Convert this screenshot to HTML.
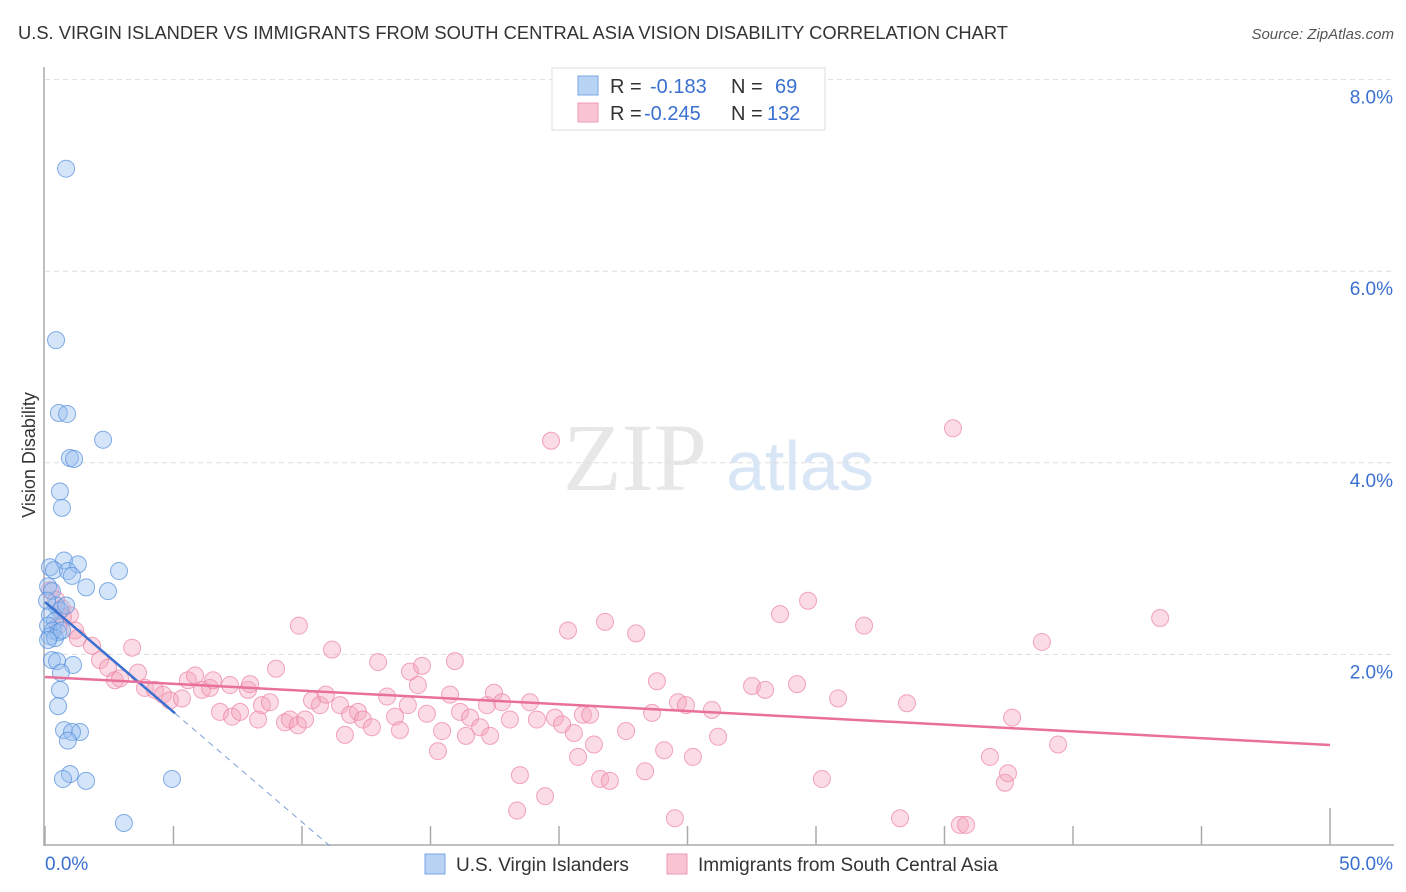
<!DOCTYPE html>
<html><head><meta charset="utf-8">
<style>
body{margin:0;background:#fff;font-family:"Liberation Sans",sans-serif;}
#wrap{position:relative;width:1406px;height:892px;overflow:hidden;}
</style></head>
<body>
<div id="wrap">
<svg id="svg" width="1406" height="892" xmlns="http://www.w3.org/2000/svg">
<text x="18" y="39" font-size="18" fill="#333" textLength="990" lengthAdjust="spacingAndGlyphs">U.S. VIRGIN ISLANDER VS IMMIGRANTS FROM SOUTH CENTRAL ASIA VISION DISABILITY CORRELATION CHART</text>
<text x="1394" y="39" font-size="15" fill="#555" font-style="italic" text-anchor="end">Source: ZipAtlas.com</text>
<text x="35" y="455" font-size="18" fill="#333" text-anchor="middle" transform="rotate(-90 35 455)">Vision Disability</text>
<g>
<text x="635" y="490" font-size="96" fill="#ddd" font-family="Liberation Serif,serif" text-anchor="middle" opacity="0.7">ZIP</text>
<text x="800" y="490" font-size="70" fill="#cfe0f5" text-anchor="middle" opacity="0.8">atlas</text>
</g>
<g id="grid"></g>
<g id="pts"></g>
<g id="lines"></g>
<g>
<rect x="552" y="68" width="273" height="62" fill="#fff" stroke="#ddd"/>
<rect x="578" y="76" width="20" height="19" fill="#b9d3f5" stroke="#7aa6e3"/>
<rect x="578" y="103" width="20" height="19" fill="#f9c5d3" stroke="#ef9bb3"/>
<g font-size="20">
<text x="610" y="93" fill="#333">R =</text>
<text x="650" y="93" fill="#3a70d0">-0.183</text>
<text x="731" y="93" fill="#333">N =</text>
<text x="775" y="93" fill="#3a70d0">69</text>
<text x="610" y="120" fill="#333">R =</text>
<text x="644" y="120" fill="#3a70d0">-0.245</text>
<text x="731" y="120" fill="#333">N =</text>
<text x="767" y="120" fill="#3a70d0">132</text>
</g>
</g>
<g>
<rect x="425" y="854" width="20" height="20" fill="#b9d3f5" stroke="#7aa6e3"/>
<text x="456" y="871" font-size="19" fill="#333">U.S. Virgin Islanders</text>
<rect x="667" y="854" width="20" height="20" fill="#f9c5d3" stroke="#ef9bb3"/>
<text x="698" y="871" font-size="19" fill="#333">Immigrants from South Central Asia</text>
</g>
</svg>
</div>
<script>
const yTicks=[2,4,6,8];
const yTickLabels=["2.0%","4.0%","6.0%","8.0%"];
const xTicks=[0,5,10,15,20,25,30,35,40,45,50];
const blueX=[0.82,0.43,0.54,0.86,2.26,0.97,1.13,0.58,0.66,0.74,1.28,0.19,0.35,0.89,1.05,2.88,2.45,1.60,0.12,0.27,0.43,0.58,0.82,0.19,0.39,0.12,0.31,0.51,0.19,0.39,0.66,0.27,0.47,1.09,0.62,0.58,0.51,0.74,1.36,1.05,0.89,0.97,0.70,1.60,4.94,3.07,0.08,0.12];
const blueY=[7.07,5.28,4.52,4.51,4.24,4.05,4.04,3.70,3.53,2.98,2.94,2.91,2.88,2.87,2.82,2.87,2.66,2.70,2.71,2.66,2.51,2.46,2.51,2.41,2.35,2.30,2.25,2.23,2.19,2.17,2.25,1.94,1.93,1.89,1.81,1.63,1.46,1.21,1.19,1.19,1.10,0.75,0.70,0.68,0.70,0.24,2.56,2.15];
const pinkX=[0.19,0.43,0.66,0.97,0.51,1.17,0.70,1.28,1.83,2.14,2.45,2.72,2.92,3.39,3.62,3.89,4.28,4.59,4.86,5.33,5.56,5.84,6.11,6.42,6.54,6.81,7.20,7.28,7.59,7.90,7.98,8.29,8.44,8.75,8.99,9.34,9.53,9.84,9.88,10.12,10.39,10.70,10.93,11.17,11.48,11.67,11.87,12.18,12.37,12.72,12.96,13.31,13.62,13.81,14.12,14.20,14.51,14.67,14.86,15.29,15.45,15.76,15.95,16.15,16.38,16.54,16.93,17.20,17.32,17.47,17.78,18.09,18.48,18.87,19.14,19.46,19.69,19.84,20.12,20.35,20.58,20.74,20.93,21.21,21.36,21.60,21.79,21.98,22.61,23.00,23.35,23.62,23.81,24.09,24.51,24.63,24.94,25.21,25.95,26.19,27.51,28.02,28.60,29.26,29.69,30.23,30.86,31.87,33.27,33.54,35.33,35.60,35.84,36.77,37.35,37.47,37.63,38.79,39.42,43.39,18.37];
const pinkY=[2.67,2.57,2.48,2.41,2.30,2.25,2.39,2.17,2.09,1.94,1.86,1.73,1.75,2.07,1.81,1.65,1.63,1.58,1.52,1.54,1.73,1.78,1.63,1.65,1.73,1.40,1.68,1.35,1.40,1.63,1.69,1.32,1.47,1.50,1.85,1.29,1.32,1.26,2.30,1.32,1.52,1.47,1.58,2.05,1.47,1.16,1.37,1.40,1.32,1.24,1.92,1.56,1.35,1.21,1.47,1.82,1.68,1.88,1.38,0.99,1.20,1.58,1.93,1.40,1.15,1.34,1.24,1.47,1.15,1.60,1.50,1.32,0.74,1.50,1.32,0.52,4.23,1.34,1.27,2.25,1.18,0.93,1.37,1.37,1.06,0.70,2.34,0.68,1.20,2.22,0.78,1.39,1.72,1.00,0.29,1.50,1.47,0.93,1.42,1.14,1.67,1.63,2.42,1.69,2.56,0.70,1.54,2.30,0.29,1.49,4.36,0.22,0.22,0.93,0.66,0.76,1.34,2.13,1.06,2.38,0.37];
const blueTrend=[2.547,-0.2297];
const pinkTrend=[1.764,-0.0142];
const X0=45,X1=1330,Y0=846,YPER=95.8;
const sx=v=>X0+(X1-X0)*v/50, sy=v=>Y0-v*YPER;
const NS="http://www.w3.org/2000/svg";
function mk(t,a,p){const e=document.createElementNS(NS,t);for(const k in a)e.setAttribute(k,a[k]);p.appendChild(e);return e;}
const grid=document.getElementById('grid');
yTicks.forEach((v,i)=>{
 const l=mk('line',{x1:45,x2:1394,y1:sy(v),y2:sy(v),stroke:'#ddd','stroke-dasharray':'5,4'},grid);
 
 
 const t=mk('text',{x:1393,y:sy(v)+24,'font-size':19,fill:'#3a70d0','text-anchor':'end'},grid);
 t.textContent=yTickLabels[i];
 
 
});
const ya=mk('line',{x1:44,x2:44,y1:67,y2:846,stroke:'#aaa','stroke-width':1.5},grid);


const xa=mk('line',{x1:44,x2:1394,y1:845,y2:845,stroke:'#aaa','stroke-width':1.5},grid);


xTicks.forEach(v=>{
 const t=mk('line',{x1:sx(v),x2:sx(v),y1:v==50?808:826,y2:845,stroke:'#aaa','stroke-width':1.5},grid);
 
 
});
const xl0=mk('text',{x:45,y:870,'font-size':19,fill:'#3a70d0'},grid);xl0.textContent='0.0%';


const xl1=mk('text',{x:1393,y:870,'font-size':19,fill:'#3a70d0','text-anchor':'end'},grid);xl1.textContent='50.0%';


const pts=document.getElementById('pts');
const nP=Math.min(pinkX.length,pinkY.length);
for(let i=0;i<nP;i++){
 const c=mk('circle',{cx:sx(pinkX[i]),cy:sy(pinkY[i]),r:8.5,fill:'rgba(246,165,190,0.4)',stroke:'rgba(236,130,160,0.7)','stroke-width':1},pts);
 
 
}
const nB=Math.min(blueX.length,blueY.length);
for(let i=0;i<nB;i++){
 const c=mk('circle',{cx:sx(blueX[i]),cy:sy(blueY[i]),r:8.5,fill:'rgba(150,190,240,0.4)',stroke:'rgba(90,145,220,0.75)','stroke-width':1},pts);
 
 
}
const lines=document.getElementById('lines');
const bEnd=-blueTrend[0]/blueTrend[1];
const b1=mk('line',{x1:sx(0),y1:sy(blueTrend[0]),x2:sx(5.06),y2:sy(blueTrend[0]+blueTrend[1]*5.06),stroke:'#3a70d0','stroke-width':2.5},lines);


const b2=mk('line',{x1:sx(5.06),y1:sy(blueTrend[0]+blueTrend[1]*5.06),x2:sx(bEnd),y2:sy(0),stroke:'#7aa0d8','stroke-width':1,'stroke-dasharray':'6,5'},lines);


const p1=mk('line',{x1:sx(0),y1:sy(pinkTrend[0]),x2:sx(50),y2:sy(pinkTrend[0]+pinkTrend[1]*50),stroke:'#e8709a','stroke-width':2.5},lines);


</script>
</body></html>
